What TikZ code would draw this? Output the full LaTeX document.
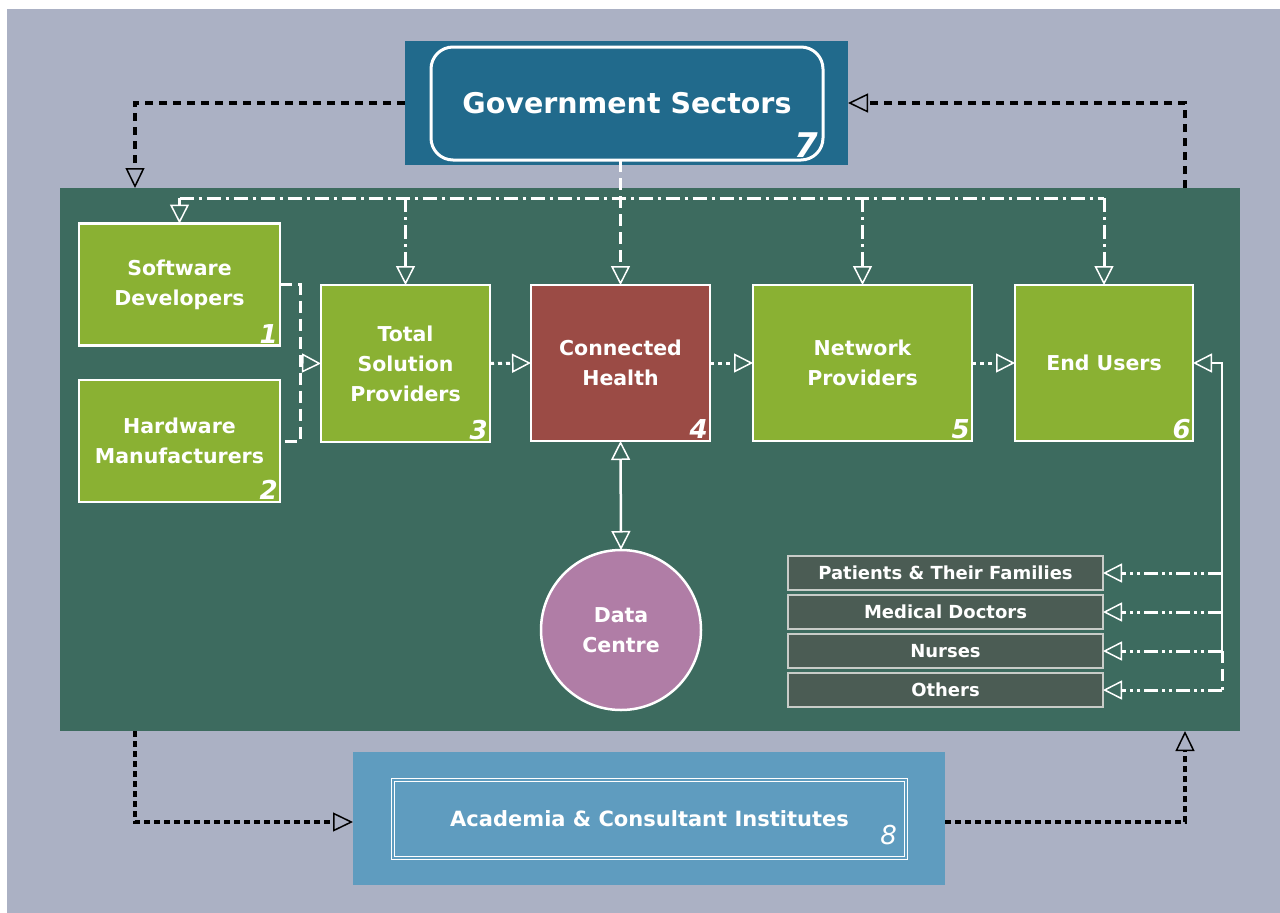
\documentclass[tikz,border=0pt]{standalone}
\usepackage{fontspec}
\setmainfont{DejaVu Sans}
\usetikzlibrary{arrows.meta,calc}
\definecolor{bgray}{HTML}{ABB1C4}
\definecolor{govblue}{HTML}{216A8C}
\definecolor{acblue}{HTML}{5F9CBF}
\definecolor{panelgreen}{HTML}{3D6B5F}
\definecolor{boxgreen}{HTML}{8AB133}
\definecolor{chred}{HTML}{9B4B45}
\definecolor{dcpink}{HTML}{B07DA6}
\definecolor{rowgray}{HTML}{4B5C54}
\definecolor{rowedge}{HTML}{C8CCC8}
\begin{document}
\begin{tikzpicture}[x=1pt,y=-1pt,
  gbox/.style={draw=white, line width=2.5pt, fill=boxgreen, inner sep=0pt, outer sep=0pt,
    text=white, align=center, font=\fontsize{20.5}{30}\selectfont\bfseries},
  rowbox/.style={draw=rowedge, line width=1.5pt, fill=rowgray, inner sep=0pt, outer sep=0pt,
    minimum width=315pt, minimum height=34pt, text=white, font=\fontsize{18}{20}\selectfont\bfseries},
  num/.style={font=\fontsize{26}{26}\selectfont\bfseries\itshape, text=white, inner sep=1pt, anchor=south east},
  blk/.style={draw=black, line width=3.5pt, dash pattern=on 8pt off 6pt},
  blkdot/.style={draw=black, line width=3.5pt, dash pattern=on 6pt off 4pt},
  barr/.style={-{Triangle[open,length=20pt,width=19pt,line width=1.5pt]}},
  warr/.style={-{Triangle[open,length=19pt,width=19pt,line width=1.5pt]}},
  wdashdot/.style={draw=white, line width=3pt, dash pattern=on 14pt off 5pt on 3pt off 5pt},
  wdash/.style={draw=white, line width=3pt, dash pattern=on 12pt off 6pt},
  wdot/.style={draw=white, line width=3pt, dash pattern=on 4pt off 4pt},
  wdd/.style={draw=white, line width=3pt, dash pattern=on 14pt off 4pt on 3pt off 4pt on 3pt off 4pt},
  wsolid/.style={draw=white, line width=2.5pt}
]
\useasboundingbox (0,0) rectangle (1280,913);
\fill[white] (0,0) rectangle (1280,913);
\fill[bgray] (7,9) rectangle (1280,913);

% Government
\node[fill=govblue, minimum width=443pt, minimum height=124pt, inner sep=0pt, outer sep=0pt] (govbg) at (626.5,103) {};
\node[draw=white, line width=3pt, rounded corners=22pt, minimum width=392pt, minimum height=113pt,
  inner sep=0pt, outer sep=0pt, text=white, font=\fontsize{28.5}{30}\selectfont\bfseries] (gov) at (627,103.5) {Government Sectors};
\node[num, font=\fontsize{34}{34}\selectfont\bfseries\itshape] at ($(gov.south east)+(-4,-1)$) {7};

% Panel
\node[fill=panelgreen, minimum width=1180pt, minimum height=543pt, inner sep=0pt, outer sep=0pt] (panel) at (650,459.5) {};

% Academia
\node[fill=acblue, minimum width=592pt, minimum height=133pt, inner sep=0pt, outer sep=0pt] (acbg) at (649,818.5) {};
\node[draw=white, double=acblue, double distance=1.5pt, line width=1.5pt, minimum width=513pt, minimum height=78pt,
  inner sep=0pt, outer sep=0pt, text=white, font=\fontsize{21}{24}\selectfont\bfseries] (ac) at (649.5,819) {Academia \& Consultant Institutes};
\node[num, font=\fontsize{26}{26}\selectfont\itshape] at ($(ac.south east)+(-8,-12)$) {8};

% Boxes
\node[gbox, minimum width=201pt, minimum height=122pt] (sw) at (179.5,284.5) {Software\\Developers};
\node[gbox, minimum width=201pt, minimum height=122pt] (hw) at (179.5,441) {Hardware\\Manufacturers};
\node[gbox, minimum width=169pt, minimum height=157pt] (tsp) at (405.5,363.5) {Total\\Solution\\Providers};
\node[gbox, fill=chred, minimum width=179pt, minimum height=156pt] (ch) at (620.5,363) {Connected\\Health};
\node[gbox, minimum width=219pt, minimum height=156pt] (np) at (862.5,363) {Network\\Providers};
\node[gbox, minimum width=178pt, minimum height=156pt] (eu) at (1104,363) {End Users};
\node[draw=white, line width=2.5pt, fill=dcpink, circle, minimum size=160pt, inner sep=0pt, outer sep=0pt,
  text=white, align=center, font=\fontsize{20.5}{30}\selectfont\bfseries] (dc) at (621,630) {Data\\Centre};

\node[num] at ($(sw.south east)+(-1,-1)$) {1};
\node[num] at ($(hw.south east)+(-1,-1)$) {2};
\node[num] at ($(tsp.south east)+(-1,-1)$) {3};
\node[num] at ($(ch.south east)+(-1,-1)$) {4};
\node[num] at ($(np.south east)+(-1,-1)$) {5};
\node[num] at ($(eu.south east)+(-1,-1)$) {6};

% User rows
\node[rowbox] (r1) at (945.5,573) {Patients \& Their Families};
\node[rowbox] (r2) at (945.5,612) {Medical Doctors};
\node[rowbox] (r3) at (945.5,651) {Nurses};
\node[rowbox] (r4) at (945.5,690) {Others};

% Black outer connectors
\coordinate (pL) at (135,0 |- panel.north);
\coordinate (pR) at (1185,0 |- panel.north);
\coordinate (pBL) at (135,0 |- panel.south);
\coordinate (pBR) at (1185,0 |- panel.south);
\coordinate (acW) at (0,822 -| acbg.west);
\coordinate (acE) at (0,822 -| acbg.east);
\draw[blk, barr] (govbg.west) -| (pL);
\draw[blk, barr] (pR) |- (govbg.east);
\draw[blkdot, barr] (pBL) |- (acW);
\draw[blkdot, barr] (acE) -| (pBR);

% White bus
\coordinate (bus) at (0,198);
\draw[wdashdot] (sw.north |- bus) -- (eu.north |- bus);
\draw[wdashdot, warr] (sw.north |- bus) -- (sw.north);
\draw[wdashdot, warr] (tsp.north |- bus) -- (tsp.north);
\draw[wdashdot, warr] (np.north |- bus) -- (np.north);
\draw[wdashdot, warr] (eu.north |- bus) -- (eu.north);
\draw[wdash, warr] (gov.south -| ch.north) -- (ch.north);

% Bracket
\coordinate (brk) at (300,363);
\draw[wdash] (sw.east) -| (brk |- hw.east) -- (hw.east);
\draw[wdash, warr] (brk) -- (tsp.west);

% Chain
\draw[wdot, warr] (tsp.east) -- (ch.west);
\draw[wdot, warr] (ch.east) -- (np.west);
\draw[wdot, warr] (np.east) -- (eu.west);

% Data centre
\draw[wsolid, {Triangle[open,length=19pt,width=19pt,line width=1.5pt]}-{Triangle[open,length=19pt,width=19pt,line width=1.5pt]}] (ch.south) -- (dc.north);

% Right side
\coordinate (rv) at (1222,0);
\draw[wsolid, warr] (rv |- r3.east) |- (eu.east);
\draw[wdash] (rv |- r3.east) -- (rv |- r4.east);
\draw[wdd, warr] (rv |- r1.east) -- (r1.east);
\draw[wdd, warr] (rv |- r2.east) -- (r2.east);
\draw[wdd, warr] (rv |- r3.east) -- (r3.east);
\draw[wdd, warr] (rv |- r4.east) -- (r4.east);
\end{tikzpicture}
\end{document}
